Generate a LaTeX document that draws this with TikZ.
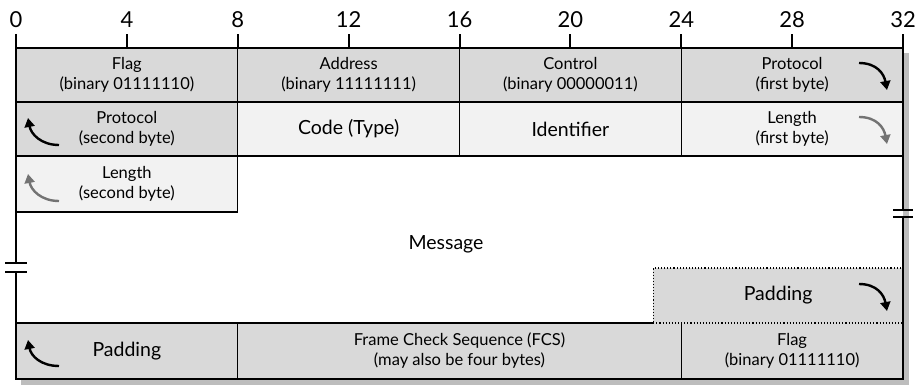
\documentclass[tikz,border=0pt]{standalone}
\usepackage{fontspec}
\setmainfont{Lato}
\usetikzlibrary{arrows.meta,positioning,calc}

\definecolor{cellgray}{gray}{0.85}
\definecolor{cellpale}{gray}{0.95}
\definecolor{shadowgray}{gray}{0.74}
\definecolor{arrowgray}{gray}{0.45}

\begin{document}
\begin{tikzpicture}[
    x=1pt, y=-1pt,
    font=\fontsize{16.5}{20}\selectfont,
    cell/.style={draw, line width=1.1pt, inner sep=0pt, outer sep=0pt, anchor=north west,
      minimum width=221.75pt, minimum height=54pt, align=center},
    dark/.style={cell, fill=cellgray},
    pale/.style={cell, fill=cellpale},
    big/.style={font=\fontsize{19.5}{23}\selectfont},
    num/.style={font=\fontsize{22}{22}\selectfont},
    frame/.style={line width=2pt},
    turn/.style={line width=2.4pt, -{Triangle[length=9pt, width=10pt]}},
  ]
  \useasboundingbox (0,0) rectangle (918,385);
  % shadow and message background
  \fill[shadowgray] (21,53) rectangle (909,385);
  \fill[white] (16,48) rectangle (903,379);

  % bit ruler
  \foreach \b in {0,4,...,32} {
    \draw[frame] (16+27.72*\b,48) -- (16+27.72*\b,34);
    \node[num] (n\b) at (16+27.72*\b,20) {\b};
  }

  % first word
  \node[dark] (flag) at (16,48) {Flag\\(binary 01111110)};
  \node[dark] (addr) at (flag.north east) {Address\\(binary 11111111)};
  \node[dark] (ctrl) at (addr.north east) {Control\\(binary 00000011)};
  \node[dark] (prota) at (ctrl.north east) {Protocol\\(first byte)};

  % second word
  \node[dark] (protb) at (flag.south west) {Protocol\\(second byte)};
  \node[pale, big] (code) at (protb.north east) {Code (Type)};
  \node[pale, big] (ident) at (code.north east) {Identifier};
  \node[pale] (lena) at (ident.north east) {Length\\(first byte)};

  % third word
  \node[pale, minimum height=56pt] (lenb) at (protb.south west) {Length\\(second byte)};
  \node[big] (msg) at (446,244) {Message};

  % last word
  \node[cell, draw=none, fill=cellgray, minimum height=56pt] (padb) at (16,323) {};
  \node[big] at (padb) {Padding};
  \node[cell, draw=none, fill=cellgray, minimum width=443.5pt, minimum height=56pt] (fcs)
    at (padb.north east) {Frame Check Sequence (FCS)\\(may also be four bytes)};
  \node[cell, draw=none, fill=cellgray, minimum height=56pt] (flagb)
    at (fcs.north east) {Flag\\(binary 01111110)};
  \draw[line width=1.1pt] (padb.north east) -- (padb.south east);
  \draw[line width=1.1pt] (fcs.north east) -- (fcs.south east);

  % padding at the end of the message
  \node[cell, big, draw, dotted, fill=cellgray, minimum width=249.75pt, minimum height=55pt,
    anchor=south east] (pada) at (flagb.north east) {Padding};
  \draw[line width=1.1pt] (padb.north west) -- (pada.south west);

  % outer frame with breaks
  \draw[frame] (16,34) -- (16,263) (16,272) -- (16,379) -- (903,379) -- (903,217)
    (903,210) -- (903,34);
  \draw[frame] (16,48) -- (903,48);
  \draw[frame] (5,263) -- (27,263) (5,272) -- (27,272);
  \draw[frame] (893,210) -- (913,210) (893,217) -- (913,217);

  % byte order arrows
  \draw[turn] ($(prota.north east)+(-44,15)$) .. controls +(18,0) and +(-3,-16) .. ($(prota.north east)+(-16,42)$);
  \draw[turn, arrowgray] ($(lena.north east)+(-44,15)$) .. controls +(18,0) and +(-3,-16) .. ($(lena.north east)+(-16,42)$);
  \draw[turn] ($(pada.north east)+(-44,16)$) .. controls +(18,0) and +(-3,-16) .. ($(pada.north east)+(-16,43)$);
  \draw[turn] ($(protb.south west)+(43,-11)$) .. controls +(-18,0) and +(3,16) .. ($(protb.south west)+(12,-38)$);
  \draw[turn, arrowgray] ($(lenb.south west)+(43,-11)$) .. controls +(-18,0) and +(3,16) .. ($(lenb.south west)+(12,-38)$);
  \draw[turn] ($(padb.south west)+(43,-13)$) .. controls +(-18,0) and +(3,16) .. ($(padb.south west)+(12,-39)$);
\end{tikzpicture}
\end{document}
